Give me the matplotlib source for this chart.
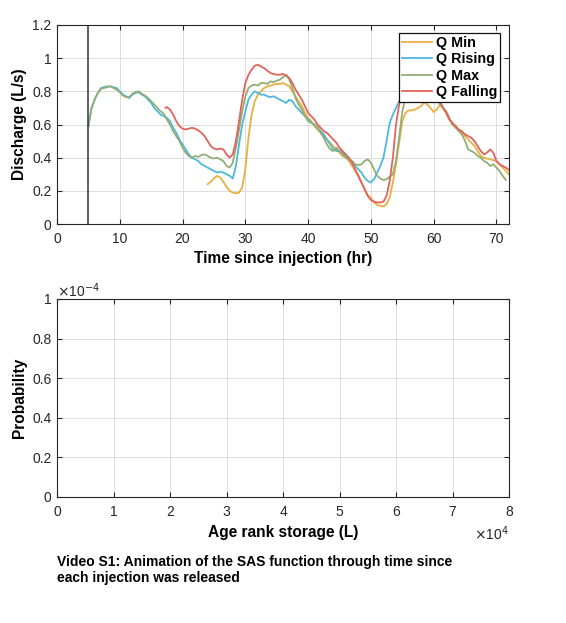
import matplotlib
matplotlib.use("Agg")
import matplotlib.pyplot as plt
import numpy as np

plt.rcParams['font.family'] = ['Liberation Sans', 'DejaVu Sans']

# ---------------- data ----------------
t_rise = [5.0, 5.5, 6.0, 6.5, 7.0, 7.5, 8.0, 8.5, 9.0, 9.5, 10.0, 10.5, 11.0, 11.5, 12.0, 12.5,
          13.0, 13.5, 14.0, 14.5, 15.0, 15.5, 16.0, 16.5, 17.0, 17.5, 18.0, 18.5, 19.0, 19.5,
          20.0, 20.5, 21.0, 21.5, 22.0, 22.5, 23.0, 23.5, 24.0, 24.5, 25.0, 25.5, 26.0, 26.5,
          27.0, 27.5, 28.0, 28.5, 29.0, 29.5, 30.0, 30.5, 31.0, 31.5, 32.0, 32.5, 33.0, 33.5,
          34.0, 34.5, 35.0, 35.5, 36.0, 36.5, 37.0, 37.5, 38.0, 38.5, 39.0, 39.5, 40.0, 40.5,
          41.0, 41.5, 42.0, 42.5, 43.0, 43.5, 44.0, 44.5, 45.0, 45.5, 46.0, 46.5, 47.0, 47.5,
          48.0, 48.5, 49.0, 49.5, 50.0, 50.5, 51.0, 51.5, 52.0, 52.5, 53.0, 53.5, 54.0, 54.5,
          55.0, 55.5]
q_rise = [0.59, 0.70, 0.75, 0.79, 0.82, 0.825, 0.83, 0.83, 0.825, 0.82, 0.80, 0.78, 0.77, 0.76,
          0.78, 0.79, 0.795, 0.78, 0.77, 0.75, 0.73, 0.70, 0.68, 0.66, 0.65, 0.64, 0.62, 0.58,
          0.55, 0.51, 0.48, 0.45, 0.42, 0.40, 0.39, 0.38, 0.36, 0.35, 0.34, 0.33, 0.32, 0.31,
          0.315, 0.31, 0.30, 0.29, 0.275, 0.35, 0.48, 0.60, 0.68, 0.75, 0.78, 0.80, 0.79, 0.78,
          0.78, 0.77, 0.765, 0.77, 0.76, 0.75, 0.74, 0.73, 0.75, 0.74, 0.71, 0.69, 0.67, 0.65,
          0.63, 0.61, 0.60, 0.58, 0.56, 0.54, 0.51, 0.48, 0.45, 0.44, 0.44, 0.43, 0.41, 0.39,
          0.37, 0.35, 0.33, 0.31, 0.28, 0.26, 0.25, 0.27, 0.31, 0.35, 0.40, 0.50, 0.61, 0.66,
          0.70, 0.74, 0.77, 0.79]

t_max = [5.0, 5.5, 6.0, 6.5, 7.0, 7.5, 8.0, 8.5, 9.0, 9.5, 10.0, 10.5, 11.0, 11.5, 12.0, 12.5,
         13.0, 13.5, 14.0, 14.5, 15.0, 15.5, 16.0, 16.5, 17.0, 17.5, 18.0, 18.5, 19.0, 19.5,
         20.0, 20.5, 21.0, 21.5, 22.0, 22.5, 23.0, 23.5, 24.0, 24.5, 25.0, 25.5, 26.0, 26.5,
         27.0, 27.5, 28.0, 28.5, 29.0, 29.5, 30.0, 30.5, 31.0, 31.5, 32.0, 32.5, 33.0, 33.5,
         34.0, 34.5, 35.0, 35.5, 36.0, 36.5, 37.0, 37.5, 38.0, 38.5, 39.0, 39.5, 40.0, 40.5,
         41.0, 41.5, 42.0, 42.5, 43.0, 43.5, 44.0, 44.5, 45.0, 45.5, 46.0, 46.5, 47.0, 47.5,
         48.0, 48.5, 49.0, 49.5, 50.0, 50.5, 51.0, 51.5, 52.0, 52.5, 53.0, 53.5, 54.0, 54.5,
         55.0, 55.5, 56.0, 57.0, 58.0, 59.0, 60.0, 60.5, 61.0, 61.5, 62.0, 62.5, 63.0, 63.5,
         64.0, 64.5, 65.0, 65.5, 66.0, 66.5, 67.0, 67.5, 68.0, 68.5, 69.0, 69.5, 70.0, 70.5,
         71.0, 71.5]
q_max = [0.59, 0.70, 0.75, 0.79, 0.815, 0.82, 0.825, 0.83, 0.82, 0.81, 0.795, 0.775, 0.765,
         0.765, 0.785, 0.795, 0.80, 0.785, 0.775, 0.76, 0.74, 0.72, 0.70, 0.68, 0.665, 0.63,
         0.60, 0.56, 0.53, 0.50, 0.46, 0.43, 0.41, 0.40, 0.41, 0.405, 0.415, 0.42, 0.41, 0.40,
         0.395, 0.40, 0.39, 0.38, 0.35, 0.34, 0.37, 0.46, 0.57, 0.68, 0.77, 0.82, 0.835, 0.84,
         0.835, 0.85, 0.85, 0.845, 0.86, 0.855, 0.865, 0.87, 0.885, 0.90, 0.87, 0.82, 0.76,
         0.72, 0.69, 0.65, 0.62, 0.61, 0.60, 0.58, 0.55, 0.52, 0.48, 0.45, 0.44, 0.46, 0.44,
         0.42, 0.40, 0.39, 0.38, 0.36, 0.355, 0.36, 0.38, 0.39, 0.37, 0.33, 0.29, 0.275, 0.265,
         0.27, 0.285, 0.30, 0.38, 0.52, 0.68, 0.76, 0.79, 0.80, 0.80, 0.79, 0.78, 0.75, 0.72,
         0.70, 0.68, 0.64, 0.60, 0.58, 0.56, 0.54, 0.50, 0.45, 0.44, 0.43, 0.41, 0.40, 0.38,
         0.37, 0.35, 0.36, 0.34, 0.32, 0.29, 0.265]

t_fall = [17.3, 17.5, 18.0, 18.5, 19.0, 19.5, 20.0, 20.5, 21.0, 21.5, 22.0, 22.5, 23.0, 23.5,
          24.0, 24.5, 25.0, 25.5, 26.0, 26.5, 27.0, 27.5, 28.0, 28.5, 29.0, 29.5, 30.0, 30.5,
          31.0, 31.5, 32.0, 32.5, 33.0, 33.5, 34.0, 34.5, 35.0, 35.5, 36.0, 36.5, 37.0, 37.5,
          38.0, 38.5, 39.0, 39.5, 40.0, 40.5, 41.0, 41.5, 42.0, 42.5, 43.0, 43.5, 44.0, 44.5,
          45.0, 45.5, 46.0, 46.5, 47.0, 47.5, 48.0, 48.5, 49.0, 49.5, 50.0, 50.5, 51.0, 51.5,
          52.0, 52.5, 53.0, 53.5, 54.0, 54.5, 55.0, 55.5, 57.0, 59.0, 60.5, 61.0, 61.5, 62.0,
          62.5, 63.0, 63.5, 64.0, 64.5, 65.0, 65.5, 66.0, 66.5, 67.0, 67.5, 68.0, 68.5, 69.0,
          69.5, 70.0, 70.5, 71.0, 71.5, 72.0]
q_fall = [0.70, 0.705, 0.69, 0.66, 0.62, 0.59, 0.575, 0.57, 0.575, 0.58, 0.575, 0.565, 0.55,
          0.53, 0.50, 0.47, 0.455, 0.45, 0.455, 0.45, 0.42, 0.40, 0.42, 0.50, 0.62, 0.75, 0.85,
          0.90, 0.93, 0.955, 0.96, 0.95, 0.94, 0.925, 0.91, 0.905, 0.90, 0.90, 0.905, 0.895,
          0.88, 0.85, 0.81, 0.78, 0.75, 0.71, 0.67, 0.65, 0.63, 0.60, 0.58, 0.56, 0.55, 0.53,
          0.51, 0.49, 0.46, 0.44, 0.42, 0.40, 0.37, 0.33, 0.29, 0.25, 0.21, 0.17, 0.145, 0.135,
          0.13, 0.13, 0.135, 0.17, 0.26, 0.40, 0.60, 0.72, 0.78, 0.80, 0.81, 0.80, 0.78, 0.74,
          0.70, 0.67, 0.63, 0.61, 0.59, 0.57, 0.56, 0.54, 0.53, 0.52, 0.50, 0.47, 0.44, 0.42,
          0.43, 0.45, 0.43, 0.38, 0.36, 0.35, 0.34, 0.325]

t_min = [24.0, 24.5, 25.0, 25.5, 26.0, 26.5, 27.0, 27.5, 28.0, 28.5, 29.0, 29.5, 30.0, 30.5,
         31.0, 31.5, 32.0, 32.5, 33.0, 33.5, 34.0, 34.5, 35.0, 35.5, 36.0, 36.5, 37.0, 37.5,
         38.0, 38.5, 39.0, 39.5, 40.0, 40.5, 41.0, 41.5, 42.0, 42.5, 43.0, 43.5, 44.0, 44.5,
         45.0, 45.5, 46.0, 46.5, 47.0, 47.5, 48.0, 48.5, 49.0, 49.5, 50.0, 50.5, 51.0, 51.5,
         52.0, 52.5, 53.0, 53.5, 54.0, 54.5, 55.0, 55.5, 56.0, 56.5, 57.0, 57.5, 58.0, 58.5,
         59.0, 59.5, 60.0, 60.5, 61.0, 61.5, 62.0, 62.5, 63.0, 63.5, 64.0, 64.5, 65.0, 65.5,
         66.0, 66.5, 67.0, 67.5, 68.0, 68.5, 69.0, 69.5, 70.0, 70.5, 71.0, 71.5, 72.0]
q_min = [0.24, 0.255, 0.275, 0.29, 0.28, 0.255, 0.225, 0.20, 0.19, 0.185, 0.19, 0.22, 0.33,
         0.52, 0.66, 0.74, 0.78, 0.80, 0.82, 0.83, 0.835, 0.84, 0.845, 0.845, 0.85, 0.84, 0.83,
         0.80, 0.77, 0.74, 0.71, 0.67, 0.64, 0.62, 0.59, 0.57, 0.55, 0.53, 0.51, 0.49, 0.47,
         0.45, 0.43, 0.41, 0.40, 0.38, 0.35, 0.32, 0.29, 0.25, 0.21, 0.175, 0.155, 0.13, 0.115,
         0.11, 0.105, 0.12, 0.16, 0.25, 0.36, 0.49, 0.62, 0.67, 0.685, 0.685, 0.69, 0.70, 0.71,
         0.735, 0.72, 0.70, 0.675, 0.69, 0.72, 0.70, 0.67, 0.63, 0.60, 0.585, 0.565, 0.55, 0.53,
         0.51, 0.49, 0.47, 0.44, 0.41, 0.40, 0.395, 0.39, 0.385, 0.38, 0.36, 0.34, 0.32, 0.30]

injection_time = 5.0
series_names = ['Q Min', 'Q Rising', 'Q Max', 'Q Falling']
series_colors = ['#E8B040', '#4DB8DC', '#93AE74', '#E0645A']

top_xticks = [0, 10, 20, 30, 40, 50, 60, 70]
top_yticks = [0, 0.2, 0.4, 0.6, 0.8, 1.0, 1.2]
top_yticklabels = ['0', '0.2', '0.4', '0.6', '0.8', '1', '1.2']

bot_xticks = [0, 1e4, 2e4, 3e4, 4e4, 5e4, 6e4, 7e4, 8e4]
bot_xticklabels = ['0', '1', '2', '3', '4', '5', '6', '7', '8']
bot_yticks = [0, 0.2e-4, 0.4e-4, 0.6e-4, 0.8e-4, 1.0e-4]
bot_yticklabels = ['0', '0.2', '0.4', '0.6', '0.8', '1']

caption = ("Video S1: Animation of the SAS function through time since\n"
           "each injection was released")

# ---------------- figure ----------------
W, H = 566, 623
fig = plt.figure(figsize=(W / 100, H / 100), dpi=100)

axc = '#262626'
tick_fs = 10
lab_fs = 11.2


def style(ax):
    ax.grid(True, color='#DCDCDC', linewidth=0.7)
    ax.set_axisbelow(True)
    for s in ax.spines.values():
        s.set_color(axc)
        s.set_linewidth(0.8)
    ax.tick_params(direction='in', top=True, right=True, length=3.5, width=0.8,
                   colors=axc, labelsize=tick_fs, labelcolor='#262626')
    ax.tick_params(axis='x', pad=6)
    ax.tick_params(axis='y', pad=4)


ax1 = fig.add_axes([57 / W, 1 - 224 / H, 452 / W, 199 / H])
style(ax1)
series = [(t_min, q_min), (t_rise, q_rise), (t_max, q_max), (t_fall, q_fall)]
for (t, q), name, c in zip(series, series_names, series_colors):
    ax1.plot(t, q, color=c, linewidth=1.3, label=name)
ax1.axvline(injection_time, color='#333333', linewidth=1.1, zorder=5)
ax1.set_xlim(0, 72)
ax1.set_ylim(0, 1.2)
ax1.set_xticks(top_xticks)
ax1.set_yticks(top_yticks)
ax1.set_yticklabels(top_yticklabels)
ax1.set_xlabel('Time since injection (hr)', fontsize=lab_fs, fontweight='bold', labelpad=3)
ax1.set_ylabel('Discharge (L/s)', fontsize=lab_fs, fontweight='bold', labelpad=4)
leg = ax1.legend(loc='upper right', bbox_to_anchor=(1.0 - 9 / 452, 1.0 - 8 / 199),
                 frameon=True, fancybox=False, edgecolor='#111111', framealpha=1,
                 prop={'weight': 'bold', 'size': 10.3}, handlelength=2.1, handletextpad=0.25,
                 labelspacing=0.17, borderpad=0.2, borderaxespad=0)
leg.get_frame().set_linewidth(0.9)

ax2 = fig.add_axes([57 / W, 1 - 497 / H, 452 / W, 198 / H])
style(ax2)
ax2.set_xlim(0, 8e4)
ax2.set_ylim(0, 1e-4)
ax2.set_xticks(bot_xticks)
ax2.set_xticklabels(bot_xticklabels)
ax2.set_yticks(bot_yticks)
ax2.set_yticklabels(bot_yticklabels)
ax2.set_xlabel('Age rank storage (L)', fontsize=lab_fs, fontweight='bold', labelpad=4)
ax2.set_ylabel('Probability', fontsize=lab_fs, fontweight='bold', labelpad=4)
ax2.text(0.0, 0.995, r'$\times$10$^{-4}$', transform=ax2.transAxes, ha='left', va='bottom',
         fontsize=tick_fs, color='#262626')
ax2.text(1.0, -0.14, r'$\times$10$^{4}$', transform=ax2.transAxes, ha='right', va='top',
         fontsize=tick_fs, color='#262626')

fig.text(57 / W, 1 - 555 / H, caption, ha='left', va='top', fontsize=10,
         fontweight='bold', color='black', linespacing=1.2)

fig.savefig('out.png', dpi=100)
